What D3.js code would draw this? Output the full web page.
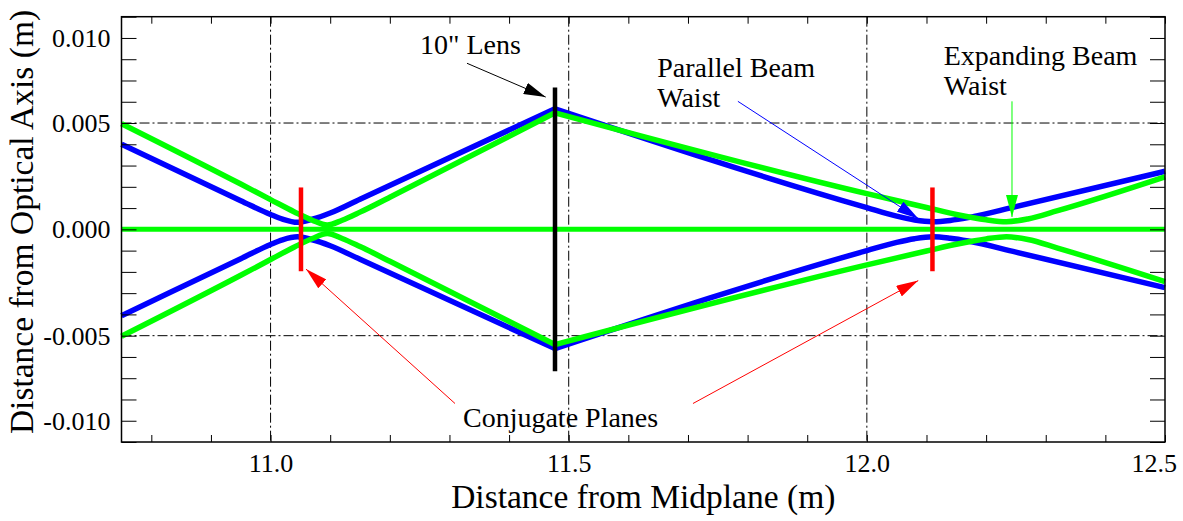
<!DOCTYPE html>
<meta charset="utf-8">
<head>
  <title>Beam envelopes</title>
  <style>
    body { margin: 0; background: #fff; }
    svg text { font-family: "Liberation Serif", "Times New Roman", serif; fill: #000; }
  </style>
</head>

<script src="https://cdn.jsdelivr.net/npm/d3@7"></script>

<svg id="chart" width="1183" height="521"></svg>

<script>
// ---- data ----
var xDomain = [10.75, 12.5]
var yDomain = [-0.01, 0.01]

var xLabelPos = [11.0, 11.5, 12.0, 12.5]
var xTickLabels = ["11.0", "11.5", "12.0", "12.5"]
var yLabelPos = [0.009, 0.005, 0, -0.005, -0.009]
var yTickLabels = ["0.010", "0.005", "0.000", "-0.005", "-0.010"]

var gridX = [11.0, 11.5, 12.0]
var gridY = [0.005, -0.005]

var lensX = 11.477
var lensHalf = 0.00667
var conjugateX = [11.051, 12.11]
var conjugateHalf = 0.00197

// parallel beam (blue)
var blueUpper = [[10.75,0.00400],[10.95,0.00135],[11.0,0.00070],[11.02,0.00048],[11.045,0.00033],
  [11.07,0.00048],[11.1,0.00077],[11.15,0.00142],[11.477,0.00567],
  [12.0,0.00102],[12.05,0.00062],[12.08,0.00044],[12.111,0.00036],[12.14,0.00042],
  [12.17,0.00055],[12.25,0.00107],[12.5,0.00273]]
var blueLower = [[10.75,-0.00406],[10.95,-0.00138],[11.0,-0.00071],[11.02,-0.00049],[11.045,-0.00035],
  [11.07,-0.00049],[11.1,-0.00077],[11.15,-0.00141],[11.477,-0.00561],
  [12.0,-0.00100],[12.05,-0.00061],[12.08,-0.00044],[12.111,-0.00035],[12.14,-0.00042],
  [12.17,-0.00055],[12.25,-0.00107],[12.5,-0.00274]]
// expanding beam (green)
var greenUpper = [[10.75,0.00497],[10.95,0.00213],[11.0,0.00140],[11.04,0.00082],[11.07,0.00043],
  [11.095,0.00020],[11.12,0.00043],[11.15,0.00081],[11.2,0.00151],[11.477,0.00548],
  [12.0,0.00168],[12.1,0.00103],[12.15,0.00070],[12.2,0.00045],[12.234,0.00036],
  [12.27,0.00049],[12.32,0.00088],[12.5,0.00247]]
var greenLower = [[10.75,-0.00503],[10.95,-0.00216],[11.0,-0.00142],[11.04,-0.00083],[11.07,-0.00043],
  [11.095,-0.00020],[11.12,-0.00043],[11.15,-0.00081],[11.2,-0.00150],[11.477,-0.00542],
  [12.0,-0.00167],[12.1,-0.00102],[12.15,-0.00070],[12.2,-0.00045],[12.234,-0.00035],
  [12.27,-0.00048],[12.32,-0.00088],[12.5,-0.00246]]
var axisLine = [[10.75, 0], [12.5, 0]]

// annotations: text anchor, arrow start, arrow tip (data units)
var annotations = [
  {lines: ["10\" Lens"], at: [11.2506, 0.00825], from: [11.3294, 0.00781], to: [11.4614, 0.00622], color: "#000"},
  {lines: ["Parallel Beam", "Waist"], at: [11.6485, 0.00716], from: [11.7837, 0.00602], to: [12.0866, 0.00050], color: "#0000ff"},
  {lines: ["Expanding Beam", "Waist"], at: [12.129, 0.00772], from: [12.2434, 0.00602], to: [12.2434, 0.00058], color: "#00ff00"},
  {lines: ["Conjugate Planes"], at: [11.3227, -0.00931], from: [11.3093, -0.00819], to: [11.0594, -0.00187], color: "#ff0000"},
  {lines: [], from: [11.7084, -0.00819], to: [12.0862, -0.00241], color: "#ff0000"}
]

// ---- layout ----
var svg = d3.select("svg")
var mLeft = 121.5, mRight = 1165, mTop = 16.7, mBottom = 442
var serif = "'Liberation Serif', 'Times New Roman', serif"

var x = d3.scaleLinear().domain(xDomain).range([mLeft, mRight])
var y = d3.scaleLinear().domain(yDomain).range([mBottom, mTop])

// grid lines (dash-dot)
var grid = svg.append("g").attr("stroke", "#000").attr("stroke-width", 1)
  .attr("stroke-dasharray", "10,3,2,3")
grid.selectAll(".gx").data(gridX).enter().append("line")
  .attr("x1", d => x(d)).attr("x2", d => x(d))
  .attr("y1", mTop).attr("y2", mBottom)
grid.selectAll(".gy").data(gridY).enter().append("line")
  .attr("x1", mLeft).attr("x2", mRight)
  .attr("y1", d => y(d)).attr("y2", d => y(d))

// beams, smooth inside each half, kink at the lens
var line = d3.line().x(d => x(d[0])).y(d => y(d[1])).curve(d3.curveMonotoneX)
function halves(d) {
  return [d.filter(p => p[0] <= lensX), d.filter(p => p[0] >= lensX)]
}
function drawBeam(data, color) {
  svg.append("g").selectAll("path").data(halves(data)).enter().append("path")
    .attr("d", line)
    .attr("fill", "none")
    .attr("stroke", color)
    .attr("stroke-width", 5.5)
    .attr("stroke-linejoin", "round")
}
drawBeam(blueUpper, "#0000ff")
drawBeam(blueLower, "#0000ff")
drawBeam(greenUpper, "#00ff00")
drawBeam(greenLower, "#00ff00")

svg.append("path").datum(axisLine)
  .attr("d", d3.line().x(d => x(d[0])).y(d => y(d[1])))
  .attr("stroke", "#00ff00").attr("stroke-width", 5)

// lens
svg.append("line")
  .attr("x1", x(lensX)).attr("x2", x(lensX))
  .attr("y1", y(lensHalf)).attr("y2", y(-lensHalf))
  .attr("stroke", "#000").attr("stroke-width", 4.5)

// conjugate planes
svg.selectAll(".conj").data(conjugateX).enter().append("line")
  .attr("x1", d => x(d)).attr("x2", d => x(d))
  .attr("y1", y(conjugateHalf)).attr("y2", y(-conjugateHalf))
  .attr("stroke", "#ff0000").attr("stroke-width", 4.5)

// arrow heads
var defs = svg.append("defs")
annotations.forEach(function(a, i) {
  defs.append("marker")
    .attr("id", "head" + i)
    .attr("markerUnits", "userSpaceOnUse")
    .attr("markerWidth", 22).attr("markerHeight", 12)
    .attr("refX", 22).attr("refY", 6)
    .attr("orient", "auto")
    .append("path").attr("d", "M0,0 L22,6 L0,12 Z").attr("fill", a.color)
})

var notes = svg.append("g")
annotations.forEach(function(a, i) {
  notes.append("line")
    .attr("x1", x(a.from[0])).attr("y1", y(a.from[1]))
    .attr("x2", x(a.to[0])).attr("y2", y(a.to[1]))
    .attr("stroke", a.color).attr("stroke-width", 1)
    .attr("marker-end", "url(#head" + i + ")")
  a.lines.forEach(function(t, k) {
    notes.append("text")
      .attr("x", x(a.at[0]))
      .attr("y", y(a.at[1]) + k * 30)
      .style("font-family", serif)
      .style("font-size", "28px")
      .text(t)
  })
})

// frame and ticks
svg.append("rect")
  .attr("x", mLeft).attr("y", mTop)
  .attr("width", mRight - mLeft).attr("height", mBottom - mTop)
  .attr("fill", "none").attr("stroke", "#000").attr("stroke-width", 1.5)

function tickAxis(axis, tx, ty) {
  var g = svg.append("g").attr("transform", "translate(" + tx + "," + ty + ")").call(axis)
  g.select(".domain").remove()
  g.selectAll("text").remove()
  g.selectAll("line").attr("stroke", "#000")
  return g
}
tickAxis(d3.axisBottom(x).ticks(20).tickSize(-7), 0, mBottom)
tickAxis(d3.axisTop(x).ticks(20).tickSize(-7), 0, mTop)
tickAxis(d3.axisLeft(y).ticks(20).tickSize(-15), mLeft, 0)
tickAxis(d3.axisRight(y).ticks(20).tickSize(-15), mRight, 0)

// tick labels
var xl = svg.append("g").attr("transform", "translate(0," + mBottom + ")")
  .call(d3.axisBottom(x).tickValues(xLabelPos).tickSize(0).tickPadding(12)
    .tickFormat((d, i) => xTickLabels[i]))
xl.attr("font-family", null).attr("font-size", null)
xl.select(".domain").remove()
xl.selectAll("text").style("font-family", serif).style("font-size", "26px")
  .each(function() {
    // keep the last label inside the page
    var b = this.getBBox(), t = d3.select(this.parentNode).attr("transform")
    var tx = +t.match(/translate\(([-\d.]+)/)[1]
    if (tx + b.x + b.width > 1177) d3.select(this).attr("x", 1177 - (tx + b.x + b.width))
  })

var yl = svg.append("g").attr("transform", "translate(" + mLeft + ",0)")
  .call(d3.axisLeft(y).tickValues(yLabelPos).tickSize(0).tickPadding(11)
    .tickFormat((d, i) => yTickLabels[i]))
yl.attr("font-family", null).attr("font-size", null)
yl.select(".domain").remove()
yl.selectAll("text").style("font-family", serif).style("font-size", "26px")

// axis titles
svg.append("text")
  .attr("x", (mLeft + mRight) / 2)
  .attr("y", 508)
  .attr("text-anchor", "middle")
  .style("font-family", serif)
  .style("font-size", "33.5px")
  .text("Distance from Midplane (m)")

svg.append("text")
  .attr("transform", "translate(33," + 222 + ") rotate(-90)")
  .attr("text-anchor", "middle")
  .style("font-family", serif)
  .style("font-size", "33.5px")
  .text("Distance from Optical Axis (m)")
</script>
